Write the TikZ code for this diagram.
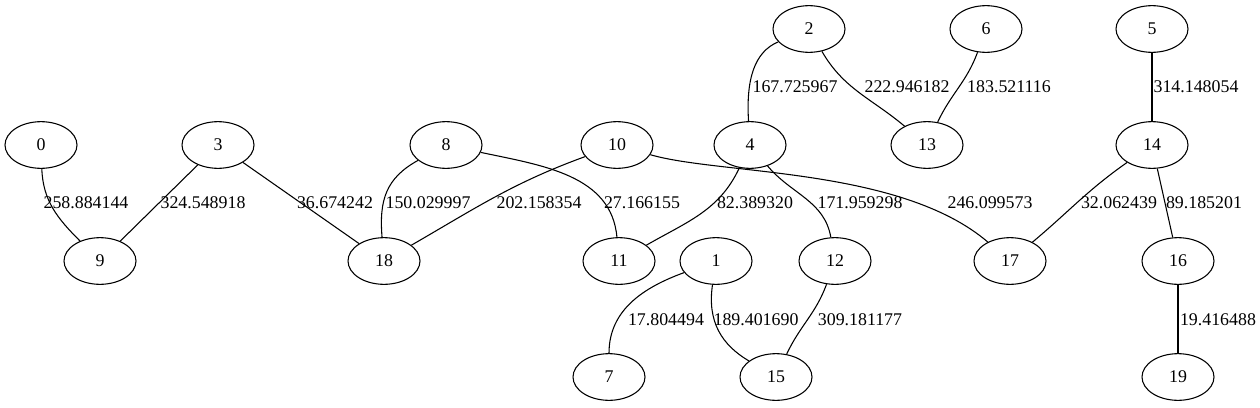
\documentclass[tikz,border=0pt]{standalone}
\usepackage{fontspec}
\setmainfont{Liberation Serif}
\usepackage{tikz}
\usetikzlibrary{shapes.geometric}

\begin{document}
\begin{tikzpicture}[
    x=0.75pt, y=-0.75pt,
    vert/.style={ellipse, draw, line width=0.8pt, minimum width=54pt,
        minimum height=35pt, inner sep=0pt, font=\fontsize{13.4}{16}\selectfont},
    wlabel/.style={inner sep=0pt, font=\fontsize{13.4}{16}\selectfont},
    link/.style={line width=0.8pt}
]
    \useasboundingbox (0,0) rectangle (1260,407);

    % top row
    \node[vert] (n2) at (809,29) {2};
    \node[vert] (n6) at (986,29) {6};
    \node[vert] (n5) at (1152,29) {5};

    % second row
    \node[vert] (n0) at (41,145) {0};
    \node[vert] (n3) at (218,145) {3};
    \node[vert] (n8) at (446,145) {8};
    \node[vert] (n10) at (617,145) {10};
    \node[vert] (n4) at (750,145) {4};
    \node[vert] (n13) at (927,145) {13};
    \node[vert] (n14) at (1152,145) {14};

    % third row
    \node[vert] (n9) at (100,261) {9};
    \node[vert] (n18) at (384,261) {18};
    \node[vert] (n11) at (619,261) {11};
    \node[vert] (n1) at (716,261) {1};
    \node[vert] (n12) at (835,261) {12};
    \node[vert] (n17) at (1010,261) {17};
    \node[vert] (n16) at (1178,261) {16};

    % bottom row
    \node[vert] (n7) at (609,377) {7};
    \node[vert] (n15) at (776,377) {15};
    \node[vert] (n19) at (1178,377) {19};

    % edges, upper band
    \draw[link] (n2) .. controls (754,52) and (746,80) .. (n4);
    \draw[link] (n2) to[out=-60, in=140] (n13);
    \draw[link] (n6) to[out=-110, in=65] (n13);
    \draw[link] (n5) -- (n14);
    \node[wlabel] (w2-4) at (795,87) {167.725967};
    \node[wlabel] (w2-13) at (907,87) {222.946182};
    \node[wlabel] (w6-13) at (1009,87) {183.521116};
    \node[wlabel] (w5-14) at (1196,87) {314.148054};

    % edges, middle band
    \draw[link] (n0) to[out=-88, in=135] (n9);
    \draw[link] (n3) -- (n9);
    \draw[link] (n3) -- (n18);
    \draw[link] (n8) .. controls (386,178) and (379,200) .. (n18);
    \draw[link] (n10) to[out=200, in=30] (n18);
    \draw[link] (n8) to[out=-12, in=95] (n11);
    \draw[link] (n4) to[out=-115, in=30] (n11);
    \draw[link] (n4) to[out=-50, in=100] (n12);
    \draw[link] (n10) .. controls (720,175) and (900,167) .. (n17);
    \draw[link] (n14) to[out=-145, in=40] (n17);
    \draw[link] (n14) -- (n16);
    \node[wlabel] (w0-9) at (86,203) {258.884144};
    \node[wlabel] (w3-9) at (203,203) {324.548918};
    \node[wlabel] (w3-18) at (335,203) {36.674242};
    \node[wlabel] (w8-18) at (428,203) {150.029997};
    \node[wlabel] (w10-18) at (539,203) {202.158354};
    \node[wlabel] (w8-11) at (642,203) {27.166155};
    \node[wlabel] (w4-11) at (755,203) {82.389320};
    \node[wlabel] (w4-12) at (860,203) {171.959298};
    \node[wlabel] (w10-17) at (990,203) {246.099573};
    \node[wlabel] (w14-17) at (1119,203) {32.062439};
    \node[wlabel] (w14-16) at (1204,203) {89.185201};

    % edges, lower band
    \draw[link] (n1) to[out=-160, in=90] (n7);
    \draw[link] (n1) .. controls (707,322) and (722,345) .. (n15);
    \draw[link] (n12) to[out=-110, in=65] (n15);
    \draw[link] (n16) -- (n19);
    \node[wlabel] (w1-7) at (666,320) {17.804494};
    \node[wlabel] (w1-15) at (756,320) {189.401690};
    \node[wlabel] (w12-15) at (860,320) {309.181177};
    \node[wlabel] (w16-19) at (1218,320) {19.416488};
\end{tikzpicture}
\end{document}
